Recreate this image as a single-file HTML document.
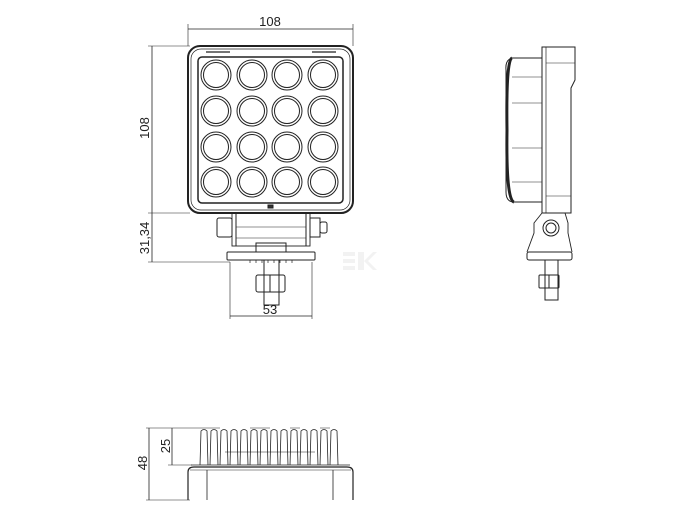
<!DOCTYPE html>
<html><head><meta charset="utf-8"><style>
html,body{margin:0;padding:0;background:#fff;width:677px;height:508px;overflow:hidden}
text{font-family:"Liberation Sans",sans-serif;font-size:13px;fill:#222}
</style></head><body>
<svg width="677" height="508" viewBox="0 0 677 508" xmlns="http://www.w3.org/2000/svg" fill="none" stroke="#222" stroke-width="1">
<line x1="188" y1="29" x2="353" y2="29" stroke-width="0.8"/>
<line x1="188" y1="24" x2="188" y2="46" stroke-width="0.6"/>
<line x1="353" y1="24" x2="353" y2="46" stroke-width="0.6"/>
<text x="270" y="26" text-anchor="middle" stroke="none">108</text>
<line x1="152" y1="46" x2="152" y2="262" stroke-width="0.8"/>
<line x1="148" y1="46" x2="190" y2="46" stroke-width="0.6"/>
<line x1="148" y1="213" x2="190" y2="213" stroke-width="0.6"/>
<line x1="148" y1="262" x2="230" y2="262" stroke-width="0.6"/>
<text transform="translate(149,128) rotate(-90)" text-anchor="middle" stroke="none">108</text>
<text transform="translate(149,238) rotate(-90)" text-anchor="middle" stroke="none">31,34</text>
<rect x="188" y="46" width="165" height="167" rx="12" stroke-width="2"/>
<rect x="191" y="49" width="159" height="161" rx="10" stroke-width="0.7"/>
<rect x="198" y="57" width="145" height="146" rx="4" stroke-width="1.5"/>
<line x1="206" y1="52" x2="230" y2="52" stroke-width="1.3"/>
<line x1="312" y1="52" x2="336" y2="52" stroke-width="1.3"/>
<rect x="268" y="205" width="5" height="3" fill="#333"/>
<g stroke-width="1">
<g id="r">
<circle cx="216" cy="75" r="15"/><circle cx="216" cy="75" r="12.5"/>
<circle cx="252" cy="75" r="15"/><circle cx="252" cy="75" r="12.5"/>
<circle cx="287" cy="75" r="15"/><circle cx="287" cy="75" r="12.5"/>
<circle cx="323" cy="75" r="15"/><circle cx="323" cy="75" r="12.5"/>
</g>
<use href="#r" y="36"/><use href="#r" y="72"/><use href="#r" y="107"/>
</g>
<rect x="232" y="213" width="78" height="33" stroke-width="0.9"/>
<line x1="236" y1="213" x2="236" y2="246"/><line x1="306" y1="213" x2="306" y2="246"/>
<line x1="236" y1="227" x2="306" y2="227" stroke-width="0.5"/>
<line x1="236" y1="238" x2="306" y2="238" stroke-width="0.5"/>
<rect x="217" y="218" width="15" height="19" rx="2"/>
<rect x="310" y="218" width="10" height="19"/><rect x="320" y="222" width="7" height="11" rx="2"/>
<rect x="256" y="243" width="30" height="9"/>
<rect x="227" y="252" width="88" height="8" rx="1"/>
<path d="M250 260v3M256 260v3M262 260v3M268 260v3M274 260v3M280 260v3M286 260v3M292 260v3" stroke-width="0.7"/>
<rect x="264" y="260" width="15" height="45"/>
<rect x="256" y="275" width="29" height="17" rx="2"/>
<line x1="270" y1="275" x2="270" y2="292"/>
<line x1="230" y1="316" x2="312" y2="316" stroke-width="0.8"/>
<line x1="230" y1="262" x2="230" y2="319" stroke-width="0.6"/>
<line x1="312" y1="262" x2="312" y2="319" stroke-width="0.6"/>
<text x="270" y="314" text-anchor="middle" stroke="none">53</text>
<g fill="#f2f2f2" stroke="none"><rect x="343" y="252" width="12" height="4"/><rect x="343" y="259" width="12" height="4"/><rect x="343" y="266" width="12" height="4"/><path d="M358 252h6v18h-6z M364 261l9-9h4l-9 9 9 9h-4z"/></g>
<path d="M542 47 h33 v33 l-4 8 v125 h-29 z" stroke-width="1"/>
<line x1="546" y1="47" x2="546" y2="213" stroke-width="0.7"/>
<line x1="546" y1="63" x2="575" y2="63" stroke-width="0.6"/>
<line x1="546" y1="196" x2="571" y2="196" stroke-width="0.6"/>
<path d="M542 58 H512 Q505 60 506 70 V192 Q506 202 514 202 H542" stroke-width="1"/>
<path d="M512 58 Q506 60 507 130 Q506 200 514 202" stroke-width="3"/>
<line x1="512" y1="77" x2="542" y2="77" stroke-width="0.6"/>
<line x1="512" y1="103" x2="542" y2="103" stroke-width="0.6"/>
<line x1="512" y1="148" x2="542" y2="148" stroke-width="0.6"/>
<line x1="512" y1="182" x2="542" y2="182" stroke-width="0.6"/>
<path d="M542 213 l-8 10 v10 l-7 19 M565 213 l3 10 v10 l4 19" stroke-width="0.9"/>
<circle cx="551" cy="228" r="8"/><circle cx="551" cy="228" r="5"/>
<rect x="527" y="252" width="45" height="8" rx="2"/>
<rect x="545" y="260" width="13" height="40"/>
<rect x="539" y="275" width="20" height="13" rx="1"/>
<line x1="549" y1="275" x2="549" y2="288"/>
<path d="M188 500 V472 Q188 467 194 467 H347 Q353 467 353 472 V500" stroke-width="1.2"/>
<line x1="190" y1="470" x2="351" y2="470" stroke-width="0.6"/>
<line x1="207" y1="470" x2="207" y2="500" stroke-width="0.8"/>
<line x1="333" y1="470" x2="333" y2="500" stroke-width="0.8"/>
<line x1="191" y1="465" x2="350" y2="465" stroke-width="0.8"/>
<g stroke-width="0.8">
<path d="M200 465 L201 431 Q204 428 207 431 L208 465"/>
<path d="M210 465 L211 431 Q214 428 217 431 L218 465"/>
<path d="M220 465 L221 431 Q224 428 227 431 L228 465"/>
<path d="M230 465 L231 431 Q234 428 237 431 L238 465"/>
<path d="M240 465 L241 431 Q244 428 247 431 L248 465"/>
<path d="M250 465 L251 431 Q254 428 257 431 L258 465"/>
<path d="M260 465 L261 431 Q264 428 267 431 L268 465"/>
<path d="M270 465 L271 431 Q274 428 277 431 L278 465"/>
<path d="M280 465 L281 431 Q284 428 287 431 L288 465"/>
<path d="M290 465 L291 431 Q294 428 297 431 L298 465"/>
<path d="M300 465 L301 431 Q304 428 307 431 L308 465"/>
<path d="M310 465 L311 431 Q314 428 317 431 L318 465"/>
<path d="M320 465 L321 431 Q324 428 327 431 L328 465"/>
<path d="M330 465 L331 431 Q334 428 337 431 L338 465"/>
<path d="M250 428 H270 M290 428 H300 M320 428 H330" stroke-width="0.6"/>
<path d="M225 452 H315" stroke-width="0.5"/>
</g>
<line x1="172" y1="428" x2="172" y2="465" stroke-width="0.8"/>
<line x1="149" y1="428" x2="149" y2="500" stroke-width="0.8"/>
<line x1="146" y1="428" x2="220" y2="428" stroke-width="0.6"/>
<line x1="168" y1="465" x2="192" y2="465" stroke-width="0.6"/>
<line x1="146" y1="500" x2="190" y2="500" stroke-width="0.6"/>
<text transform="translate(170,446) rotate(-90)" text-anchor="middle" stroke="none">25</text>
<text transform="translate(147,463) rotate(-90)" text-anchor="middle" stroke="none">48</text>
</svg>
</body></html>
